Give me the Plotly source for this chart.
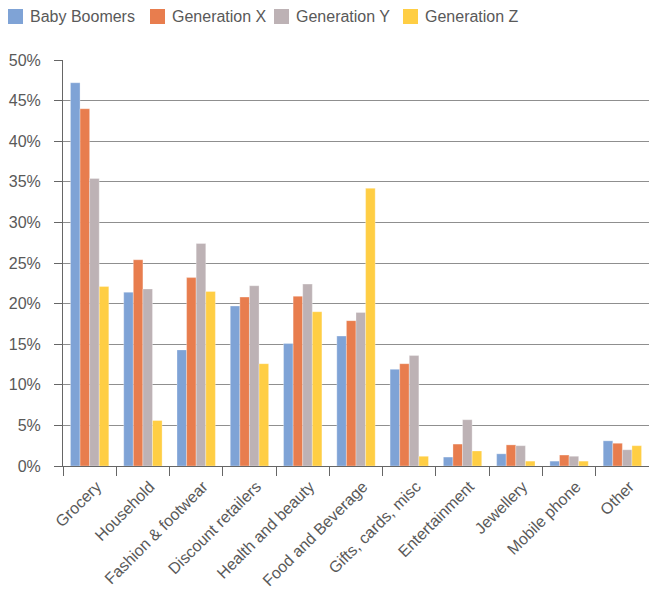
import plotly.graph_objects as go

categories = ["Grocery", "Household", "Fashion & footwear", "Discount retailers",
              "Health and beauty", "Food and Beverage", "Gifts, cards, misc",
              "Entertainment", "Jewellery", "Mobile phone", "Other"]

baby_boomers = [47.2, 21.4, 14.3, 19.7, 15.1, 16.0, 11.9, 1.1, 1.5, 0.6, 3.1]
generation_x = [44.0, 25.4, 23.2, 20.8, 20.9, 17.9, 12.6, 2.7, 2.6, 1.35, 2.8]
generation_y = [35.4, 21.8, 27.4, 22.2, 22.4, 18.9, 13.6, 5.7, 2.5, 1.2, 2.0]
generation_z = [22.1, 5.6, 21.5, 12.6, 19.0, 34.2, 1.2, 1.85, 0.6, 0.6, 2.5]

series_names = ["Baby Boomers", "Generation X", "Generation Y", "Generation Z"]
series_values = [baby_boomers, generation_x, generation_y, generation_z]
series_colors = ["#7FA3D6", "#E87D4E", "#BDB2B5", "#FFCE44"]

y_ticks = [0, 5, 10, 15, 20, 25, 30, 35, 40, 45, 50]
y_tick_labels = [f"{t}%" for t in y_ticks]

# page layout (pixels)
W, H = 649, 589
ML, MR, MT, MB = 63, 0, 60, 123
PW, PH = W - ML - MR, H - MT - MB
legend_left = [8, 150, 274, 403]   # left edge of each legend swatch
SW = 15                            # swatch size
LEG_TOP = 9


def px_x(px):
    return (px - ML) / PW


def px_y(py):
    return (H - MB - py) / PH


font = "Liberation Sans, Arial, Helvetica, sans-serif"
text_color = "#595959"

fig = go.Figure()
for name, vals, color in zip(series_names, series_values, series_colors):
    fig.add_trace(go.Bar(
        name=name, x=categories, y=vals, showlegend=False,
        marker=dict(color=color, line=dict(color="rgba(255,255,255,0.6)", width=0.5)),
    ))

shapes, annotations = [], []
for name, color, lx in zip(series_names, series_colors, legend_left):
    shapes.append(dict(type="rect", xref="paper", yref="paper",
                       x0=px_x(lx), x1=px_x(lx + SW),
                       y0=px_y(LEG_TOP + SW), y1=px_y(LEG_TOP),
                       fillcolor=color, line=dict(width=0)))
    annotations.append(dict(text=name, xref="paper", yref="paper",
                            x=px_x(lx + SW + 5), y=px_y(LEG_TOP + SW / 2),
                            xanchor="left", yanchor="middle", showarrow=False,
                            font=dict(family=font, size=16, color=text_color)))

fig.update_layout(
    width=W, height=H,
    margin=dict(l=ML, r=MR, t=MT, b=MB, autoexpand=False),
    paper_bgcolor="white", plot_bgcolor="white",
    barmode="group", bargap=0.28, bargroupgap=0,
    font=dict(family=font, size=16, color=text_color),
    showlegend=False,
    shapes=shapes, annotations=annotations,
    xaxis=dict(
        tickangle=-45, tickson="boundaries", ticks="outside", ticklen=9,
        tickcolor="#666666", showline=True, linecolor="#666666", linewidth=1,
        showgrid=False, tickfont=dict(size=16, color=text_color),
        ticklabelstandoff=4, ticklabelshift=7, automargin=False,
    ),
    yaxis=dict(
        range=[0, 50], tickvals=y_ticks, ticktext=y_tick_labels,
        ticks="outside", ticklen=8, tickcolor="#666666",
        showline=True, linecolor="#666666", linewidth=1,
        showgrid=True, gridcolor="#8f8f8f", gridwidth=1,
        zeroline=False, tickfont=dict(size=16, color=text_color),
        ticklabelstandoff=10, automargin=False,
    ),
)

fig.write_html("out.html")
